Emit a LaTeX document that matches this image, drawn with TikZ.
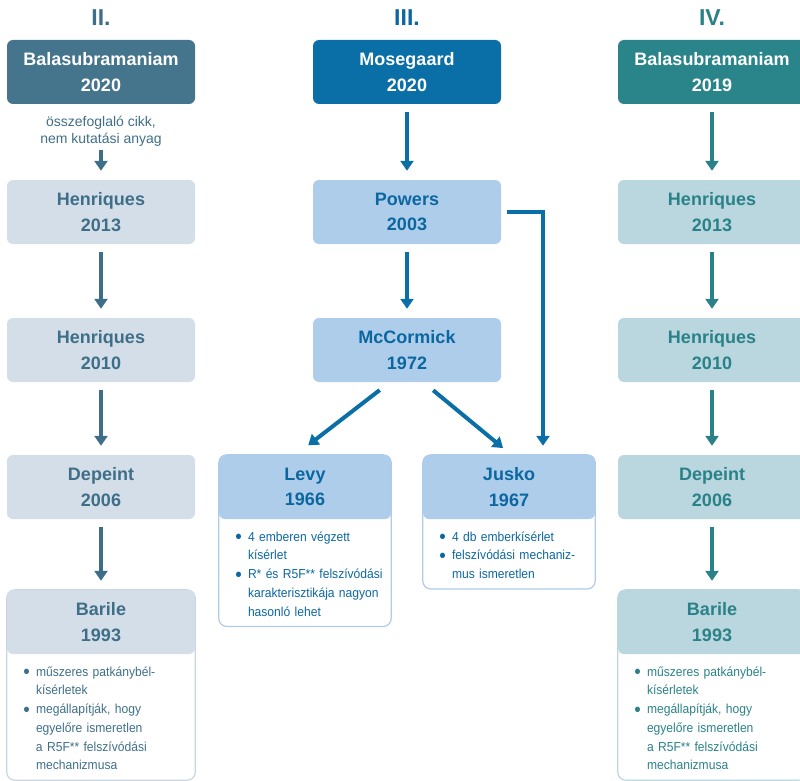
\documentclass[tikz,border=0pt]{standalone}
\usepackage{fontspec}
\setmainfont{Liberation Sans}
\newfontfamily\narrowfam[FakeStretch=0.93]{Liberation Sans}
\usepackage{enumitem}
\usetikzlibrary{arrows.meta,backgrounds}

\definecolor{slateDark}{HTML}{45758C}
\definecolor{slateLight}{HTML}{D4DEE8}
\definecolor{slateText}{HTML}{3F6F88}
\definecolor{slateLine}{HTML}{C9D6E1}
\definecolor{blueDark}{HTML}{0A6FA6}
\definecolor{blueLight}{HTML}{AECDEB}
\definecolor{blueText}{HTML}{0C67A0}
\definecolor{blueLine}{HTML}{AFCBE8}
\definecolor{tealDark}{HTML}{2A858A}
\definecolor{tealLight}{HTML}{BAD6DE}
\definecolor{tealText}{HTML}{2A8288}

\newcommand{\hdfont}{\fontsize{18}{25.5}\selectfont\bfseries}
\newcommand{\bodyfont}{\narrowfam\fontsize{13}{18.75}\selectfont}
\newcommand{\dotmark}{\raisebox{-2.6pt}{\fontsize{20}{19}\selectfont\textbullet}}
\newenvironment{pointlist}{\begin{itemize}[label=\dotmark, leftmargin=25pt, labelsep=6pt,
  itemsep=0pt, parsep=0pt, topsep=0pt, partopsep=0pt]}{\end{itemize}}

\begin{document}
\begin{tikzpicture}[x=1pt, y=-1pt,
  colhead/.style={font=\fontsize{23}{26}\selectfont\bfseries, inner sep=0pt},
  topbox/.style={fill=#1, text=white, rounded corners=6pt, minimum width=188pt,
    minimum height=64pt, align=center, font=\hdfont},
  refbox/.style 2 args={fill=#1, text=#2, rounded corners=6pt, minimum width=188pt,
    minimum height=64pt, align=center, font=\hdfont},
  notebody/.style={anchor=north, yshift=7pt, inner xsep=4pt, inner ysep=10pt,
    text width=#1, font=\bodyfont, align=left},
  frame/.style={draw=#1, line width=1.2pt, rounded corners=8pt},
  link/.style={line width=4pt, -{Triangle[width=13pt,length=10pt]},
    shorten <=8pt, shorten >=9pt}]
\useasboundingbox (0,0) rectangle (800,781);

% column II
\node[colhead, text=slateText] (headII) at (101,18) {II.};
\node[topbox=slateDark] (balaII) at (101,72) {Balasubramaniam\\2020};
\node[font=\fontsize{14}{17}\selectfont, text=slateText, align=center, inner sep=0pt]
  (sumII) at (101,131) {összefoglaló cikk,\\nem kutatási anyag};
\node[refbox={slateLight}{slateText}] (henrII13) at (101,212) {Henriques\\2013};
\node[refbox={slateLight}{slateText}] (henrII10) at (101,350) {Henriques\\2010};
\node[refbox={slateLight}{slateText}] (depII) at (101,487) {Depeint\\2006};
\node[refbox={slateLight}{slateText}] (barII) at (101,622) {Barile\\1993};
\node[notebody=180pt, text=slateText] (barIInote) at (barII.south) {%
  \begin{pointlist}
  \item műszeres patkánybél-\\kísérletek
  \item megállapítják, hogy\\egyelőre ismeretlen\\a R5F** felszívódási\\mechanizmusa
  \end{pointlist}};
\begin{scope}[on background layer]
\draw[frame=slateLine] (barII.north west) rectangle (barIInote.south east);
\end{scope}
\draw[link, slateText, shorten <=4pt] (sumII) -- (henrII13);
\foreach \a/\b in {henrII13/henrII10, henrII10/depII, depII/barII}
  \draw[link, slateText] (\a) -- (\b);

% column III
\node[colhead, text=blueText] (headIII) at (407,18) {III.};
\node[topbox=blueDark] (mose) at (407,72) {Mosegaard\\2020};
\node[refbox={blueLight}{blueText}] (powers) at (407,212) {Powers\\2003};
\node[refbox={blueLight}{blueText}] (mccormick) at (407,350) {McCormick\\1972};
\node[refbox={blueLight}{blueText}, minimum width=172pt] (levy) at (305,487) {Levy\\1966};
\node[refbox={blueLight}{blueText}, minimum width=172pt] (jusko) at (509,487) {Jusko\\1967};
\node[notebody=164pt, text=blueText] (levynote) at (levy.south) {%
  \begin{pointlist}
  \item 4 emberen végzett\\kísérlet
  \item R* és R5F** felszívódási\\karakterisztikája nagyon\\hasonló lehet
  \end{pointlist}};
\node[notebody=164pt, text=blueText] (juskonote) at (jusko.south) {%
  \begin{pointlist}
  \item 4 db emberkísérlet
  \item felszívódási mechaniz-\\mus ismeretlen
  \end{pointlist}};
\begin{scope}[on background layer]
\draw[frame=blueLine] (levy.north west) rectangle (levynote.south east);
\draw[frame=blueLine] (jusko.north west) rectangle (juskonote.south east);
\end{scope}
\draw[link, blueDark] (mose) -- (powers);
\draw[link, blueDark] (powers) -- (mccormick);
\draw[link, blueDark] ([xshift=-21pt,yshift=-3pt]mccormick.south)
  -- ([xshift=-4pt,yshift=4pt]levy.north);
\draw[link, blueDark] ([xshift=20pt,yshift=-3pt]mccormick.south)
  -- ([xshift=1pt,yshift=1pt]jusko.north);
\draw[link, blueDark, shorten <=6pt] (powers.east) -| ([xshift=34pt]jusko.north);

% column IV
\node[colhead, text=tealText] (headIV) at (712,18) {IV.};
\node[topbox=tealDark] (balaIV) at (712,72) {Balasubramaniam\\2019};
\node[refbox={tealLight}{tealText}] (henrIV13) at (712,212) {Henriques\\2013};
\node[refbox={tealLight}{tealText}] (henrIV10) at (712,350) {Henriques\\2010};
\node[refbox={tealLight}{tealText}] (depIV) at (712,487) {Depeint\\2006};
\node[refbox={tealLight}{tealText}] (barIV) at (712,622) {Barile\\1993};
\node[notebody=180pt, text=tealText] (barIVnote) at (barIV.south) {%
  \begin{pointlist}
  \item műszeres patkánybél-\\kísérletek
  \item megállapítják, hogy\\egyelőre ismeretlen\\a R5F** felszívódási\\mechanizmusa
  \end{pointlist}};
\begin{scope}[on background layer]
\draw[frame=tealLight] (barIV.north west) rectangle (barIVnote.south east);
\end{scope}
\foreach \a/\b in {balaIV/henrIV13, henrIV13/henrIV10, henrIV10/depIV, depIV/barIV}
  \draw[link, tealText] (\a) -- (\b);
\end{tikzpicture}
\end{document}
